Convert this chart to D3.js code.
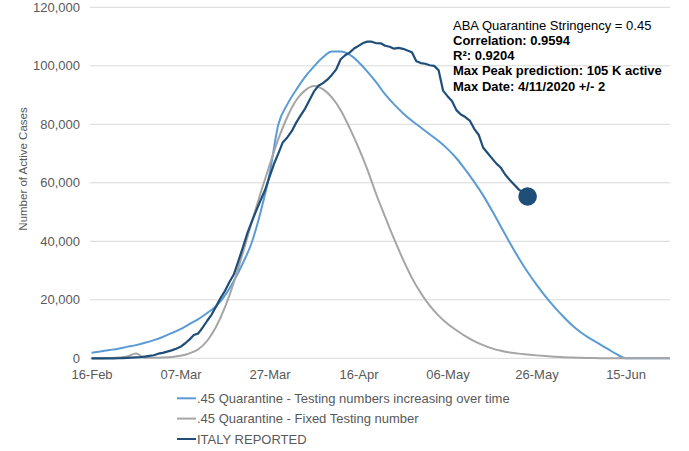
<!DOCTYPE html>
<html>
<head>
<meta charset="utf-8">
<script src="https://cdn.jsdelivr.net/npm/d3@7"></script>
<style>
  html, body { margin: 0; padding: 0; background: #fff; }
  svg { display: block; font-family: "Liberation Sans", Arial, sans-serif; }
</style>
</head>
<body>
<svg id="chart" width="689" height="451"></svg>
<script>
// Active COVID-19 cases in Italy versus two ABA quarantine model runs (stringency 0.45)

const startDate = "2020-02-16";
const endDate = "2020-06-25";

// x-axis labels (one every 20 days)
const xTickLabels = ["16-Feb", "07-Mar", "27-Mar", "16-Apr", "06-May", "26-May", "15-Jun"];
const yTickValues = [0, 20000, 40000, 60000, 80000, 100000, 120000];

// Reported active cases, one value per day starting 16-Feb
const italyReported = [
  0, 0, 0, 0, 0, 0, 19, 76, 150, 221,
  311, 385, 588, 821, 1049, 1577, 1835, 2263, 2706, 3296,
  3916, 5061, 6387, 7985, 8514, 10590, 12839, 14955, 17750, 20603,
  23073, 26062, 28710, 33190, 37860, 42681, 46638, 50418, 54030, 57521,
  62013, 66414, 70065, 73880, 75528, 77635, 80572, 83049, 85388, 88274,
  91246, 93187, 94067, 95262, 96877, 98800, 102253, 103616, 104500, 105900,
  106800, 107771, 108257, 108237, 107709, 107699, 106848, 106527, 105847, 106103,
  105813, 105205, 104657, 101551, 100943, 100704, 100179, 99980, 98467, 91528,
  89624, 87961, 84842, 83324, 82488, 81266, 78457, 76440, 72070, 70187,
  68351, 66553, 65129, 62752, 60960, 59322, 57752, 56594, 55300
];

// Model output, sampled every second day (days after 16-Feb)
const modelDays = [
  0, 2, 4, 6, 8, 10, 12, 14, 16, 18, 20, 22, 24, 26, 28, 30, 32, 34, 36, 38,
  40, 42, 44, 46, 48, 50, 52, 54, 56, 58, 60, 62, 64, 66, 68, 70, 72, 74, 76, 78,
  80, 82, 84, 86, 88, 90, 92, 94, 96, 98, 100, 102, 104, 106, 108, 110, 112, 114, 116, 118,
  120, 122, 124, 126, 128, 130
];

const testingIncreasing = [
  1900, 2300, 2800, 3300, 3900, 4500, 5300, 6200, 7300, 8600,
  10000, 11700, 13400, 15500, 17800, 21500, 26500, 32500, 39500, 50000,
  63000, 80000, 86800, 91800, 96200, 99800, 102900, 104900, 104900, 103800,
  101300, 98000, 94300, 90200, 86800, 83800, 81200, 78900, 76600, 74300,
  71600, 68400, 64500, 60300, 55700, 50500, 45000, 39500, 34300, 29500,
  25200, 21200, 17600, 14300, 11300, 8800, 6800, 5000, 3200, 1400,
  0, 0, 0, 0, 0, 0
];

const fixedTesting = [
  0, 0, 100, 250, 600, 1600, 150, 150, 250, 450,
  850, 1700, 3100, 6000, 10800, 17500, 26000, 36000, 46500, 56500,
  66000, 75000, 82500, 88200, 91600, 93100, 92000, 89200, 84800, 78800,
  72000, 64500, 56000, 48300, 40800, 33800, 27500, 22300, 18000, 14600,
  11800, 9600, 7600, 5900, 4500, 3400, 2600, 2000, 1600, 1300,
  1000, 750, 550, 400, 280, 180, 100, 50, 0, 0,
  0, 0, 0, 0, 0, 0
];

const seriesNames = [
  ".45 Quarantine - Testing numbers increasing over time",
  ".45 Quarantine - Fixed Testing number",
  "ITALY REPORTED"
];
const seriesColors = ["#5B9BD5", "#A5A5A5", "#1F4E79"];

const annotationLines = [
  { text: "ABA Quarantine Stringency = 0.45", bold: false },
  { text: "Correlation: 0.9594", bold: true },
  { text: "R²: 0.9204", bold: true },
  { text: "Max Peak prediction: 105 K active", bold: true },
  { text: "Max Date: 4/11/2020 +/- 2", bold: true }
];

// ---------------------------------------------------------------------------

const svg = d3.select("#chart");
const parseDay = d3.utcParse("%Y-%m-%d");
const t0 = parseDay(startDate);
const dayToDate = d => d3.utcDay.offset(t0, d);

const plot = { left: 90, right: 670, top: 7.3, bottom: 358.3 };

const x = d3.scaleUtc()
  .domain([t0, parseDay(endDate)])
  .range([91.5, 670]);

const y = d3.scaleLinear()
  .domain([0, 120000])
  .range([plot.bottom, plot.top]);

const textGray = "#595959";

// horizontal gridlines
svg.append("g")
  .selectAll("line")
  .data(yTickValues)
  .join("line")
  .attr("x1", plot.left)
  .attr("x2", plot.right)
  .attr("y1", d => y(d))
  .attr("y2", d => y(d))
  .attr("stroke", "#D9D9D9")
  .attr("stroke-width", 1);

// y axis labels
const yAxis = d3.axisLeft(y)
  .tickValues(yTickValues)
  .tickFormat(d3.format(","))
  .tickSize(0)
  .tickPadding(0);
svg.append("g")
  .attr("transform", "translate(80,0)")
  .call(yAxis)
  .call(g => g.select(".domain").remove())
  .call(g => g.selectAll("text")
    .attr("fill", textGray)
    .attr("font-size", "13px")
    .attr("font-family", "'Liberation Sans', Arial, sans-serif"));

// x axis labels
const parseLabel = d3.utcParse("%d-%b-%Y");
const xTickDates = xTickLabels.map(l => parseLabel(l + "-2020"));
const xAxis = d3.axisBottom(x)
  .tickValues(xTickDates)
  .tickFormat(d3.utcFormat("%d-%b"))
  .tickSize(0)
  .tickPadding(0);
svg.append("g")
  .attr("transform", "translate(0,370)")
  .call(xAxis)
  .call(g => g.select(".domain").remove())
  .call(g => g.selectAll("text")
    .attr("fill", textGray)
    .attr("font-size", "13px")
    .attr("font-family", "'Liberation Sans', Arial, sans-serif"));

// y axis title
svg.append("text")
  .attr("transform", "translate(27,169) rotate(-90)")
  .attr("text-anchor", "middle")
  .attr("fill", textGray)
  .attr("font-size", "11.5px")
  .text("Number of Active Cases");

// series
const smoothLine = d3.line()
  .x(d => x(d.date))
  .y(d => y(d.value))
  .curve(d3.curveMonotoneX);

const rawLine = d3.line()
  .x(d => x(d.date))
  .y(d => y(d.value));

const increasingData = modelDays.map((d, i) => ({ date: dayToDate(d), value: testingIncreasing[i] }));
const fixedData = modelDays.map((d, i) => ({ date: dayToDate(d), value: fixedTesting[i] }));
const italyData = italyReported.map((v, i) => ({ date: dayToDate(i), value: v }));

svg.append("path")
  .datum(increasingData)
  .attr("d", smoothLine)
  .attr("fill", "none")
  .attr("stroke", seriesColors[0])
  .attr("stroke-width", 2)
  .attr("stroke-linejoin", "round");

svg.append("path")
  .datum(fixedData)
  .attr("d", smoothLine)
  .attr("fill", "none")
  .attr("stroke", seriesColors[1])
  .attr("stroke-width", 2)
  .attr("stroke-linejoin", "round");

svg.append("path")
  .datum(italyData)
  .attr("d", rawLine)
  .attr("fill", "none")
  .attr("stroke", seriesColors[2])
  .attr("stroke-width", 2.2)
  .attr("stroke-linejoin", "round");

// marker on the latest reported value
const last = italyData[italyData.length - 1];
svg.append("circle")
  .attr("cx", x(last.date))
  .attr("cy", y(last.value))
  .attr("r", 9.3)
  .attr("fill", seriesColors[2]);

// annotation block
svg.append("g")
  .selectAll("text")
  .data(annotationLines)
  .join("text")
  .attr("x", 453)
  .attr("y", (d, i) => 30 + i * 15.15)
  .attr("font-size", "13px")
  .attr("font-weight", d => d.bold ? "bold" : "normal")
  .attr("fill", "#000")
  .text(d => d.text);

// legend
const legend = svg.append("g");
const legendRows = [398.3, 418.6, 439];
seriesNames.forEach((name, i) => {
  legend.append("line")
    .attr("x1", 177)
    .attr("x2", 196)
    .attr("y1", legendRows[i])
    .attr("y2", legendRows[i])
    .attr("stroke", seriesColors[i])
    .attr("stroke-width", 2);
  legend.append("text")
    .attr("x", 197)
    .attr("y", legendRows[i])
    .attr("dy", "0.35em")
    .attr("font-size", "13px")
    .attr("fill", textGray)
    .text(name);
});
</script>
</body>
</html>
